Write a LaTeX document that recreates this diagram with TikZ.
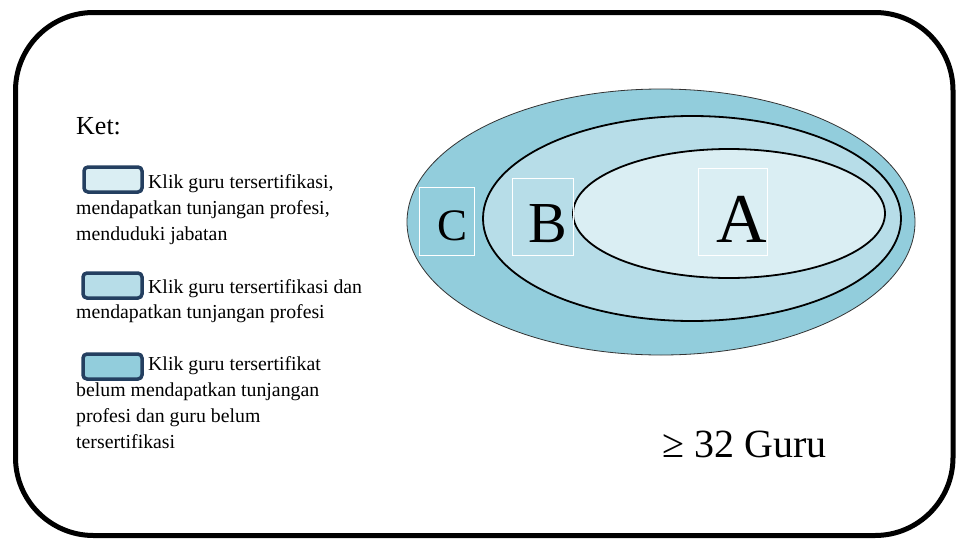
\documentclass[tikz,border=0pt]{standalone}
\usepackage{fontspec}
\setmainfont{Liberation Serif}
\definecolor{cOuter}{HTML}{92CDDC}
\definecolor{cMid}{HTML}{B7DDE8}
\definecolor{cInner}{HTML}{DAEEF3}
\definecolor{cNavy}{HTML}{243F60}
\begin{document}
\begin{tikzpicture}[x=1pt,y=-1pt,
  legtext/.style={anchor=base west,inner sep=0pt,font=\fontsize{19.8}{24}\selectfont},
  swatch/.style={draw=cNavy,line width=3.5pt,rounded corners=4pt},
  lblbox/.style={draw=white,line width=0.8pt},
  lbl/.style={anchor=base,inner sep=0pt}]
\useasboundingbox (0,0) rectangle (958,538);
% frame
\draw[line width=5pt,rounded corners=78pt] (15.5,12.5) rectangle (953,535.5);
% ellipses
\draw[fill=cOuter,draw=black!80,line width=0.8pt] (661,222) ellipse [x radius=254,y radius=133];
\draw[fill=cMid,draw=black,line width=1.8pt] (692,218.5) ellipse [x radius=209,y radius=102.5];
\draw[fill=cInner,draw=black,line width=1.8pt] (729,213.5) ellipse [x radius=156,y radius=64.5];
% label boxes
\draw[lblbox] (419,187) rectangle (474,255);
\draw[lblbox] (512,178) rectangle (573,255);
\draw[lblbox] (698,168) rectangle (767,255);
\node[lbl,font=\fontsize{45}{50}\selectfont] (C) at (453,240) {C};
\node[lbl,font=\fontsize{58}{60}\selectfont] (B) at (548,242) {B};
\node[lbl,font=\fontsize{70}{72}\selectfont] (A) at (742,242) {A};
% total
\node[anchor=base west,inner sep=0pt,font=\fontsize{40}{42}\selectfont] (tot) at (662,457) {≥ 32 Guru};
% legend
\node[anchor=base west,inner sep=0pt,font=\fontsize{26}{30}\selectfont] (ket) at (76,134) {Ket:};
\draw[swatch,fill=cInner] (84,167) rectangle (142,192);
\draw[swatch,fill=cMid] (83,273) rectangle (142,298);
\draw[swatch,fill=cOuter] (83,354) rectangle (142,379);
\node[legtext] (l1a) at (148,188) {Klik guru tersertifikasi,};
\node[legtext] (l1b) at (76,214.5) {mendapatkan tunjangan profesi,};
\node[legtext] (l1c) at (76,240) {menduduki jabatan};
\node[legtext] (l2a) at (148,293) {Klik guru tersertifikasi dan};
\node[legtext] (l2b) at (76,318.5) {mendapatkan tunjangan profesi};
\node[legtext] (l3a) at (148,370) {Klik guru tersertifikat};
\node[legtext] (l3b) at (76,396.5) {belum mendapatkan tunjangan};
\node[legtext] (l3c) at (76,422.5) {profesi dan guru belum};
\node[legtext] (l3d) at (76,448) {tersertifikasi};
\end{tikzpicture}
\end{document}
